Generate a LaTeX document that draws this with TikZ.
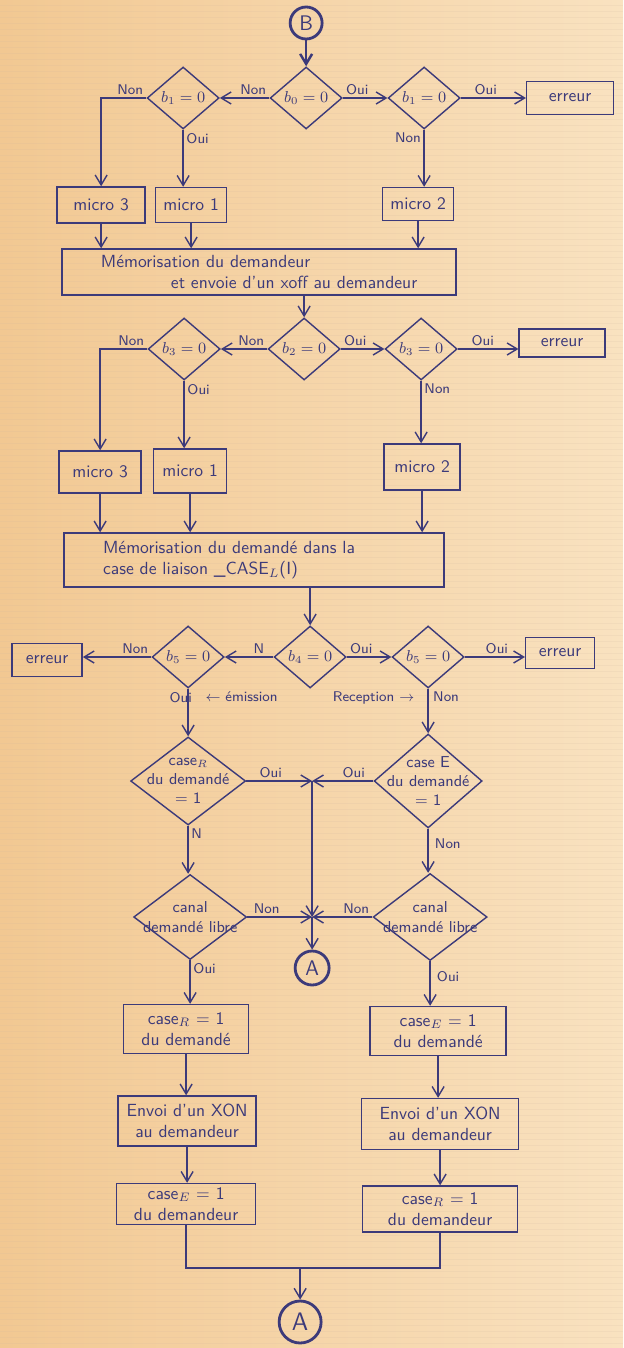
\documentclass[tikz,border=0pt]{standalone}
\usepackage{tikz}
\usetikzlibrary{arrows.meta,positioning,shapes.geometric}

\definecolor{encre}{RGB}{60,58,122}
\definecolor{papierA}{RGB}{242,200,146}
\definecolor{papierB}{RGB}{249,226,192}
\definecolor{reglure}{RGB}{205,180,160}

\begin{document}
\begin{tikzpicture}[
    x=0.02cm, y=-0.02cm,
    every node/.style={font=\sffamily, text=encre},
    bloc/.style={draw=encre, line width=0.8pt, align=center, inner sep=2pt},
    test/.style={diamond, draw=encre, line width=0.8pt, inner sep=0pt, minimum width=1.44cm, minimum height=1.24cm},
    texte/.style={align=center, font=\sffamily\small, inner sep=0pt},
    renvoi/.style={circle, draw=encre, line width=1.6pt, inner sep=0pt, font=\sffamily\large},
    fleche/.style={-{Straight Barb[length=2mm,width=2.4mm]}, draw=encre, line width=0.8pt},
    trait/.style={draw=encre, line width=0.8pt},
    etiq/.style={font=\sffamily\footnotesize, inner sep=1.5pt}
  ]
    % feuille
    \fill[left color=papierA, right color=papierB] (0,0) rectangle (623,1348);
    \foreach \y in {5,11,...,1348}
      \draw[reglure, opacity=0.15, line width=0.15pt] (0,\y) -- (623,\y);

    % test b0 / b1
    \node[renvoi, minimum size=0.64cm] (B) at (306,23) {B};
    \node[test, label={[texte]center:$b_0=0$}] (b0) at (306,98) {};
    \node[test, label={[texte]center:$b_1=0$}] (b1g) at (183,98) {};
    \node[test, label={[texte]center:$b_1=0$}] (b1d) at (424,98) {};
    \node[bloc, minimum width=1.74cm, minimum height=0.66cm] (err1) at (570,98) {erreur};
    \node[bloc, minimum width=1.76cm, minimum height=0.72cm] (m3a) at (101,205) {micro 3};
    \node[bloc, minimum width=1.42cm, minimum height=0.70cm] (m1a) at (191,205) {micro 1};
    \node[bloc, minimum width=1.42cm, minimum height=0.66cm] (m2a) at (418,204) {micro 2};
    \node[bloc, minimum width=7.88cm, minimum height=0.92cm, align=left] (memo1) at (259,272)
      {Mémorisation du demandeur\hspace*{1cm}\\\hspace*{1.4cm}et envoie d'un xoff au demandeur};

    \draw[fleche, line width=1.4pt] (B) -- (b0);
    \draw[fleche] (b0.west) node[etiq, above left] {Non} -- (b1g.east);
    \draw[fleche] (b0.east) node[etiq, above right] {Oui} -- (b1d.west);
    \draw[fleche] (b1g.west) node[etiq, above left] {Non} -| (m3a.north);
    \draw[fleche] (b1g.south) node[etiq, below right] {Oui} -- (b1g.south |- m1a.north);
    \draw[fleche] (b1d.east) node[etiq, above right=0pt and 6pt] {Oui} -- (err1.west);
    \draw[fleche] (b1d.south) node[etiq, below left] {Non} -- (b1d.south |- m2a.north);
    \foreach \m in {m3a,m1a,m2a}
      \draw[fleche] (\m.south) -- (\m.south |- memo1.north);

    % test b2 / b3
    \node[test, label={[texte]center:$b_2=0$}] (b2) at (304,349) {};
    \node[test, label={[texte]center:$b_3=0$}] (b3g) at (184,349) {};
    \node[test, label={[texte]center:$b_3=0$}] (b3d) at (421,349) {};
    \node[bloc, minimum width=1.72cm, minimum height=0.56cm] (err2) at (562,343) {erreur};
    \node[bloc, minimum width=1.64cm, minimum height=0.84cm] (m3b) at (100,472) {micro 3};
    \node[bloc, minimum width=1.46cm, minimum height=0.88cm] (m1b) at (190,471) {micro 1};
    \node[bloc, minimum width=1.52cm, minimum height=0.92cm] (m2b) at (422,467) {micro 2};
    \node[bloc, minimum width=7.6cm, minimum height=1.08cm, align=left] (memo2) at (254,560)
      {Mémorisation du demandé dans la\hspace*{1cm}\\case de liaison \_CASE$_L$(I)};

    \draw[fleche] (b2.north |- memo1.south) -- (b2.north);
    \draw[fleche] (b2.west) node[etiq, above left] {Non} -- (b3g.east);
    \draw[fleche] (b2.east) node[etiq, above right] {Oui} -- (b3d.west);
    \draw[fleche] (b3g.west) node[etiq, above left] {Non} -| (m3b.north);
    \draw[fleche] (b3g.south) node[etiq, below right] {Oui} -- (b3g.south |- m1b.north);
    \draw[fleche] (b3d.east) node[etiq, above right=0pt and 6pt] {Oui} -- (b3d.east -| err2.west);
    \draw[fleche] (b3d.south) node[etiq, below right] {Non} -- (b3d.south |- m2b.north);
    \foreach \m in {m3b,m1b,m2b}
      \draw[fleche] (\m.south) -- (\m.south |- memo2.north);

    % test b4 / b5
    \node[test, label={[texte]center:$b_4=0$}] (b4) at (310,657) {};
    \node[test, label={[texte]center:$b_5=0$}] (b5g) at (188,657) {};
    \node[test, label={[texte]center:$b_5=0$}] (b5d) at (428,657) {};
    \node[bloc, minimum width=1.40cm, minimum height=0.66cm] (err3) at (47,660) {erreur};
    \node[bloc, minimum width=1.38cm, minimum height=0.62cm] (err4) at (560,653) {erreur};

    \draw[fleche] (b4.north |- memo2.south) -- (b4.north);
    \draw[fleche] (b4.west) -- node[etiq, above, pos=0.3] {N} (b5g.east);
    \draw[fleche] (b4.east) node[etiq, above right] {Oui} -- (b5d.west);
    \draw[fleche] (b5g.west) node[etiq, above left] {Non} -- (b5g.west -| err3.east);
    \draw[fleche] (b5d.east) node[etiq, above right=0pt and 10pt] {Oui} -- (b5d.east -| err4.west);

    % cases du demande
    \node[test, minimum width=2.3cm, minimum height=1.76cm,
      label={[texte]center:case$_R$\\du demandé\\= 1}] (caseR) at (188,781) {};
    \node[test, minimum width=2.16cm, minimum height=1.88cm,
      label={[texte]center:case E\\du demandé\\= 1}] (caseE) at (428,781) {};
    \coordinate (J1) at (312,781);

    \draw[fleche] (b5g.south) node[etiq, below left=0pt and -4pt] {Oui}
      node[etiq, below right=0pt and 8pt] {$\leftarrow$ émission} -- (caseR.north);
    \draw[fleche] (b5d.south) node[etiq, below left=0pt and 6pt] {Reception $\rightarrow$}
      node[etiq, below right=0pt and 1pt] {Non} -- (caseE.north);
    \draw[fleche] (caseR.east) -- node[etiq, above, pos=0.37] {Oui} (J1);
    \draw[fleche] (caseE.west) -- node[etiq, above, pos=0.32] {Oui} (J1);

    % canal libre
    \node[test, minimum width=2.26cm, minimum height=1.7cm,
      label={[texte]center:canal\\demandé libre}] (canalG) at (190,917) {};
    \node[test, minimum width=2.28cm, minimum height=1.74cm,
      label={[texte]center:canal\\demandé libre}] (canalD) at (430,917) {};
    \coordinate (J2) at (312,917);
    \node[renvoi, minimum size=0.68cm] (A1) at (312,968) {A};

    \draw[fleche] (caseR.south) node[etiq, below right] {N} -- (caseR.south |- canalG.north);
    \draw[fleche] (caseE.south) node[etiq, below right=4pt and 2pt] {Non} -- (caseE.south |- canalD.north);
    \draw[fleche] (J1) -- (J2);
    \draw[fleche] (canalG.east) -- node[etiq, above, pos=0.3] {Non} (J2);
    \draw[fleche] (canalD.west) node[etiq, above left] {Non} -- (J2);
    \draw[fleche] (J2) -- (A1);

    % mise a jour des cases
    \node[bloc, minimum width=2.5cm, minimum height=0.98cm] (cR1) at (186,1029) {case$_R$ = 1\\du demandé};
    \node[bloc, minimum width=2.72cm, minimum height=0.98cm] (cE1) at (438,1031) {case$_E$ = 1\\du demandé};
    \node[bloc, minimum width=2.76cm, minimum height=1.0cm] (envG) at (187,1121) {Envoi d'un XON\\au demandeur};
    \node[bloc, minimum width=3.14cm, minimum height=1.02cm] (envD) at (440,1124) {Envoi d'un XON\\au demandeur};
    \node[bloc, minimum width=2.78cm, minimum height=0.82cm] (cEG) at (186,1204) {case$_E$ = 1\\du demandeur};
    \node[bloc, minimum width=3.1cm, minimum height=0.92cm] (cRD) at (440,1209) {case$_R$ = 1\\du demandeur};
    \coordinate (M) at (300,1268);
    \node[renvoi, minimum size=0.84cm, font=\sffamily\Large] (A2) at (300,1322) {A};

    \draw[fleche] (canalG.south) node[etiq, below right] {Oui} -- (canalG.south |- cR1.north);
    \draw[fleche] (canalD.south) node[etiq, below right=4pt and 2pt] {Oui} -- (canalD.south |- cE1.north);
    \draw[fleche] (cR1.south) -- (cR1.south |- envG.north);
    \draw[fleche] (envG.south) -- (envG.south |- cEG.north);
    \draw[fleche] (cE1.south) -- (cE1.south |- envD.north);
    \draw[fleche] (envD.south) -- (envD.south |- cRD.north);
    \draw[trait] (cEG.south) |- (M) -| (cRD.south);
    \draw[fleche] (M) -- (A2);
\end{tikzpicture}
\end{document}
